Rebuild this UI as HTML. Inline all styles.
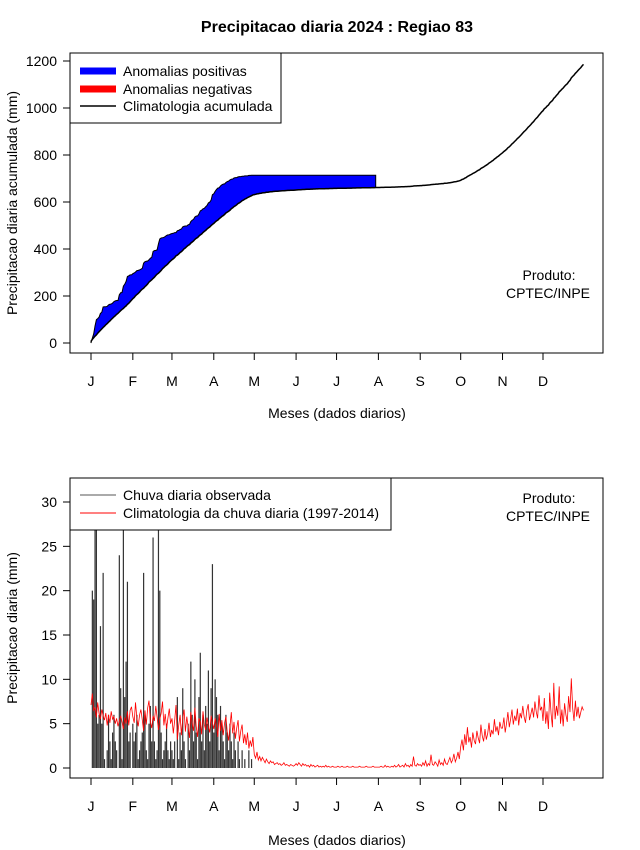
<!DOCTYPE html>
<html><head><meta charset="utf-8"><style>
body{margin:0;background:#fff;}
svg{display:block;font-family:"Liberation Sans",sans-serif;}
</style></head><body>
<svg id="c" width="640" height="850"></svg>
<script>
const months=["J","F","M","A","M","J","J","A","S","O","N","D"];
const monthStartDay=[1,32,61,92,122,153,183,214,245,275,306,336];
const topYTicks=[0,200,400,600,800,1000,1200];
const botYTicks=[0,5,10,15,20,25,30];
const climDaily=[
7.1,8.4,6.5,6.8,5.7,7.4,6.1,5.5,6.6,5.9,5.4,6.2,4.8,6.0,5.1,6.4,5.5,5.8,5.0,5.6,4.7,5.3,5.9,5.2,4.4,5.7,5.0,6.4,4.8,6.5,6.9,
5.8,5.1,7.4,5.6,4.7,6.0,6.6,5.4,4.2,6.5,4.9,6.8,7.6,5.2,4.5,5.9,5.3,7.0,5.7,4.3,5.5,6.2,7.5,4.8,6.1,4.4,5.6,6.7,5.0,
5.6,3.9,5.4,7.1,3.2,4.8,6.0,3.7,5.5,6.6,4.1,5.8,4.6,3.4,6.3,5.0,4.2,6.8,4.7,3.5,5.6,5.2,3.8,6.4,4.9,4.3,5.7,4.6,4.0,5.9,5.1,
4.4,5.6,4.8,3.5,6.1,4.2,5.4,3.7,5.1,5.8,4.0,3.1,4.7,6.3,3.9,5.2,3.3,4.5,5.4,3.0,4.2,4.9,2.8,3.8,2.6,4.0,2.2,3.1,2.4,3.5,
1.5,1.1,1.8,0.9,1.3,0.8,1.2,0.9,0.6,1.0,0.7,0.5,0.8,0.6,0.7,0.4,0.5,0.6,0.4,0.5,0.3,0.4,0.6,0.3,0.4,0.3,0.2,0.4,0.3,0.2,0.3,
0.5,0.3,0.6,0.4,0.2,0.5,0.3,0.4,0.2,0.3,0.1,0.4,0.2,0.3,0.1,0.2,0.3,0.1,0.2,0.1,0.2,0.1,0.3,0.1,0.2,0.1,0.1,0.2,0.1,0.1,
0.1,0.2,0.1,0.1,0.2,0.1,0.1,0.1,0.2,0.1,0.1,0.1,0.2,0.1,0.1,0.1,0.1,0.2,0.1,0.1,0.1,0.1,0.2,0.1,0.1,0.1,0.1,0.2,0.1,0.1,0.1,
0.1,0.1,0.2,0.1,0.1,0.3,0.1,0.2,0.1,0.1,0.2,0.1,0.3,0.1,0.2,0.4,0.1,0.2,0.3,0.1,0.5,0.2,0.3,0.1,0.4,0.2,1.3,0.3,0.2,0.5,0.3,
0.4,0.2,0.6,0.3,0.8,0.2,0.5,0.3,1.5,0.4,0.3,0.7,0.5,0.2,0.9,0.4,0.6,0.3,1.0,0.5,0.4,0.8,1.2,0.6,0.9,1.6,0.7,1.1,1.8,1.0,
2.4,3.2,2.0,3.8,2.6,4.6,2.9,3.5,2.3,4.0,3.1,2.7,4.2,3.4,2.8,4.9,3.6,3.0,4.4,3.2,3.9,5.1,3.5,4.3,3.8,5.5,4.1,4.7,3.7,5.2,4.5,
4.5,5.7,4.0,5.1,6.3,4.6,5.5,6.6,4.9,5.9,5.3,6.7,4.8,6.2,5.6,7.0,5.8,5.1,6.5,7.2,5.4,6.1,6.8,5.7,7.5,6.3,5.6,8.2,6.5,6.9,
5.3,7.9,5.0,6.4,4.4,8.5,6.1,4.6,9.6,5.5,7.0,5.9,9.2,5.0,6.6,4.7,7.3,6.0,5.2,8.1,6.3,10.1,6.7,5.3,7.6,5.8,6.9,5.6,6.3,6.9,6.5];
const obsDaily=[
0,20,19,33,27,5,6,16,5,22,1,0,2,6,3,1,4,6,3,2,0,24,9,1,27,8,12,21,3,4,0,
5,3,4,6,1,2,3,4,22,6,2,1,5,7,3,26,3,1,2,27,20,4,1,2,3,5,2,1,3,
2,1,3,0,8,1,4,2,9,3,1,0,5,2,12,6,3,10,4,1,8,13,3,6,2,7,5,11,3,9,23,
4,10,8,6,2,7,5,3,1,6,4,2,5,3,1,4,2,0,3,1,0,2,0,1,0,0,2,0,1,0,
0,0,0,0,0,0,0,0,0,0,0,0,0,0,0,0,0,0,0,0,0,0,0,0,0,0,0,0,0,0,0,
0,0,0,0,0,0,0,0,0,0,0,0,0,0,0,0,0,0,0,0,0,0,0,0,0,0,0,0,0,0,
0,0,0,0,0,0,0,0,0,0,0,0,0,0,0,0,0,0,0,0,0,0,0,0,0,0,0,0,0,0];

const svg=document.getElementById('c');
const NS='http://www.w3.org/2000/svg';
function mk(tag,attrs,parent,text){const e=document.createElementNS(NS,tag);for(const k in attrs)e.setAttribute(k,attrs[k]);if(text!==undefined)e.textContent=text;(parent||svg).appendChild(e);return e;}
const xDay=d=>91+(d-1)*(452/335);
const yTop=v=>343-v*(282/1200);
const yBot=v=>768-v*(266/30);

function cumsum(a){let s=0;return a.map(v=>s+=v);}
const climCum=cumsum(climDaily), obsCum=cumsum(obsDaily);

let t=mk('text',{x:337,y:32,'text-anchor':'middle','font-size':16,'font-weight':'bold'},svg,'Precipitacao diaria 2024 : Regiao 83');



function axes(y0,y1,yfun,yticks,ylab,xlabY,titleY,prefix){
  const g=mk('g',{});
  
  
  mk('rect',{x:70,y:y0,width:533,height:y1-y0,fill:'none',stroke:'#000'},g);
  mk('line',{x1:70,x2:70,y1:yfun(yticks[0]),y2:yfun(yticks[yticks.length-1]),stroke:'#000'},g);
  yticks.forEach(v=>{const y=yfun(v);mk('line',{x1:63,x2:70,y1:y,y2:y,stroke:'#000'},g);
    mk('text',{x:57,y:y+5,'text-anchor':'end','font-size':14},g,String(v));});
  mk('line',{x1:xDay(1),x2:xDay(336),y1:y1,y2:y1,stroke:'#000'},g);
  months.forEach((m,i)=>{const x=xDay(monthStartDay[i]);mk('line',{x1:x,x2:x,y1:y1,y2:y1+7,stroke:'#000'},g);
    mk('text',{x:x,y:xlabY,'text-anchor':'middle','font-size':14},g,m);});
  mk('text',{x:337,y:titleY,'text-anchor':'middle','font-size':14},g,'Meses (dados diarios)');
  const cy=(y0+y1)/2;
  mk('text',{x:17,y:cy,'text-anchor':'middle','font-size':14,transform:`rotate(-90 17 ${cy})`},g,ylab);
}
axes(53,353,yTop,topYTicks,'Precipitacao diaria acumulada (mm)',386,418,'top');
axes(478,778,yBot,botYTicks,'Precipitacao diaria (mm)',811,845,'bottom');

let upper='',lower='';
for(let i=0;i<obsDaily.length;i++){upper+=`${xDay(i+1).toFixed(1)},${yTop(obsCum[i]).toFixed(1)} `;}
for(let i=obsDaily.length-1;i>=0;i--){lower+=`${xDay(i+1).toFixed(1)},${yTop(climCum[i]).toFixed(1)} `;}
let band=mk('polygon',{points:upper+lower,fill:'#0000ff',stroke:'#000','stroke-width':1});


let cp=climCum.map((v,i)=>`${xDay(i+1).toFixed(1)},${yTop(v).toFixed(1)}`).join(' ');
let cl=mk('polyline',{points:cp,fill:'none',stroke:'#000','stroke-width':1.5});



const bars=mk('g',{});


const clip=mk('clipPath',{id:'bc'});mk('rect',{x:70,y:478,width:533,height:300},clip);
bars.setAttribute('clip-path','url(#bc)');
obsDaily.forEach((v,i)=>{if(v>0){const x=xDay(i+1);const b=mk('line',{x1:x,x2:x,y1:yBot(0),y2:yBot(v),stroke:'#333','stroke-width':1.2},bars);
  
  }});
let rp=climDaily.map((v,i)=>`${xDay(i+1).toFixed(1)},${yBot(v).toFixed(1)}`).join(' ');
let rl=mk('polyline',{points:rp,fill:'none',stroke:'#ff0000','stroke-width':0.8});



function legend(y0,h,w,items,name){
  const g=mk('g',{});
  
  
  mk('rect',{x:70,y:y0,width:w,height:h,fill:'#fff',stroke:'#000'},g);
  items.forEach(it=>{mk('line',{x1:80,x2:116,y1:it.y,y2:it.y,stroke:it.c,'stroke-width':it.w},g);
    mk('text',{x:123,y:it.y+5,'font-size':14},g,it.t);});
}
legend(53,70,211,[{y:71,c:'#0000ff',w:7,t:'Anomalias positivas'},{y:89,c:'#ff0000',w:7,t:'Anomalias negativas'},{y:106,c:'#000',w:1.5,t:'Climatologia acumulada'}],'top-legend');
legend(478,52,321,[{y:495,c:'#555',w:1,t:'Chuva diaria observada'},{y:513,c:'#ff0000',w:1,t:'Climatologia da chuva diaria (1997-2014)'}],'bottom-legend');

[[280,'top'],[503,'bottom']].forEach(([y,n])=>{
  const g=mk('g',{});
  
  
  mk('text',{x:549,y:y,'text-anchor':'middle','font-size':14},g,'Produto:');
  mk('text',{x:548,y:y+18,'text-anchor':'middle','font-size':14},g,'CPTEC/INPE');
});
</script>
</body></html>
